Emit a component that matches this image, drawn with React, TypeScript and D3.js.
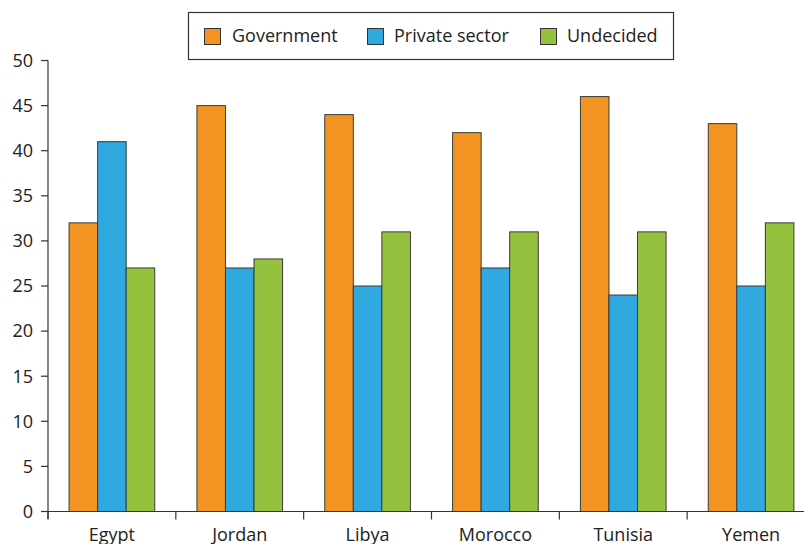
import React from "react";
import * as d3 from "d3";

const categories = ["Egypt", "Jordan", "Libya", "Morocco", "Tunisia", "Yemen"];
const seriesNames = ["Government", "Private sector", "Undecided"];
const government = [32, 45, 44, 42, 46, 43];
const privateSector = [41, 27, 25, 27, 24, 25];
const undecided = [27, 28, 31, 31, 31, 32];
const yTicks = [0, 5, 10, 15, 20, 25, 30, 35, 40, 45, 50];
const colors = ["#F39321", "#30A8E0", "#95C23E"];

const W = 804;
const H = 544;
const FONT = "'Open Sans', 'Noto Sans', sans-serif";

export default function App() {
  const series = [government, privateSector, undecided];
  const x = d3.scaleBand<string>().domain(categories).range([48, 815]).paddingInner(0.33).paddingOuter(0.165);
  const x1 = d3.scaleBand<string>().domain(seriesNames).range([0, x.bandwidth()]);
  const y = d3.scaleLinear().domain([0, 50]).range([511.5, 60.5]);
  const edges = categories.map((c) => x(c)! - (x.step() * x.paddingInner()) / 2);
  edges.push(815);

  const legendItems = [
    { sx: 204, tx: 232 },
    { sx: 367, tx: 394 },
    { sx: 540, tx: 567 },
  ];

  return (
    <svg width={W} height={H} style={{ position: "absolute", left: 0, top: 0, fontFamily: FONT }}>
      <rect width={W} height={H} fill="#fff" />
      {categories.map((c, i) =>
        series.map((s, j) => (
          <rect
            key={c + j}
            x={x(c)! + x1(seriesNames[j])!}
            y={y(s[i])}
            width={x1.bandwidth()}
            height={y(0) - y(s[i])}
            fill={colors[j]}
            stroke="#3a3a3a"
            strokeWidth={1}
          />
        ))
      )}
      {/* y axis */}
      <line x1={48} x2={48} y1={60.5} y2={519} stroke="#333" strokeWidth={1.2} />
      {yTicks.map((t) => (
        <g key={t}>
          <line x1={41} x2={48} y1={y(t)} y2={y(t)} stroke="#333" strokeWidth={1.2} />
          <text x={33} y={y(t)} dy="0.35em" textAnchor="end" fontSize={18} fill="#222">
            {t}
          </text>
        </g>
      ))}
      {/* x axis */}
      <line x1={41} x2={815} y1={y(0)} y2={y(0)} stroke="#333" strokeWidth={1.2} />
      {edges.map((e, i) => (
        <line key={i} x1={e} x2={e} y1={y(0)} y2={519.5} stroke="#333" strokeWidth={1.2} />
      ))}
      {categories.map((c) => (
        <text key={c} x={x(c)! + x.bandwidth() / 2} y={541} textAnchor="middle" fontSize={18} fill="#222">
          {c}
        </text>
      ))}
      {/* legend */}
      <rect x={188.5} y={12.5} width={485} height={47} fill="#fff" stroke="#333" strokeWidth={1.2} />
      {seriesNames.map((n, j) => (
        <g key={n}>
          <rect x={legendItems[j].sx + 0.5} y={28.5} width={16} height={16} fill={colors[j]} stroke="#333" strokeWidth={1} />
          <text x={legendItems[j].tx} y={35.5} dy="0.35em" fontSize={18} fill="#222">
            {n}
          </text>
        </g>
      ))}
    </svg>
  );
}
